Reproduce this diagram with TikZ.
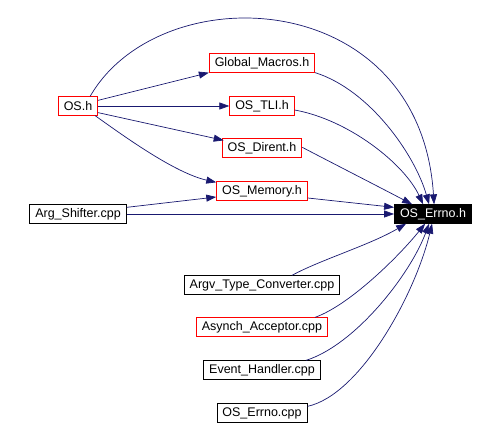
\documentclass[tikz,border=0pt]{standalone}
\usepackage{fontspec}
\setmainfont{Liberation Sans}
\usetikzlibrary{arrows.meta,calc}
\definecolor{incNavy}{RGB}{25,25,112}
\definecolor{incRed}{RGB}{255,0,0}

\begin{document}
\begin{tikzpicture}[x=1pt, y=1pt,
    file/.style={rectangle, draw=black, fill=white, line width=0.8pt,
                 font=\fontsize{12.5}{14}\selectfont, inner xsep=5.5pt,
                 inner ysep=0pt, minimum height=18.5pt},
    linked/.style={file, draw=incRed},
    focus/.style={file, draw=black, fill=black, text=white},
    dep/.style={draw=incNavy, line width=0.7pt,
                -{Triangle[length=10pt, width=7pt]}, fill=none}
  ]
  \useasboundingbox (0,0) rectangle (497,425);

  % headers
  \node[linked] (osh)     at ( 78, 319) {OS.h};
  \node[linked] (macros)  at (262, 362) {Global\_Macros.h};
  \node[linked] (tli)     at (262, 319) {OS\_TLI.h};
  \node[linked] (dirent)  at (262, 277) {OS\_Dirent.h};
  \node[linked] (memory)  at (262, 234) {OS\_Memory.h};
  \node[file]   (shifter) at ( 78, 211) {Arg\_Shifter.cpp};
  \node[focus]  (errno)   at (433, 211) {OS\_Errno.h};

  % sources
  \node[file]   (argv)    at (262, 140) {Argv\_Type\_Converter.cpp};
  \node[linked] (asynch)  at (262,  98) {Asynch\_Acceptor.cpp};
  \node[file]   (event)   at (262,  55) {Event\_Handler.cpp};
  \node[file]   (errcpp)  at (262,  12) {OS\_Errno.cpp};

  % OS.h includes
  \draw[dep] ([xshift=-8pt]osh.north east)
    .. controls (160,450) and (420,440) .. ([xshift=40pt]errno.north west);
  \draw[dep] ([yshift=-4pt]osh.north east) -- (macros.south west);
  \draw[dep] (osh.east) -- (tli.west);
  \draw[dep] ([yshift=3pt]osh.south east) -- ([xshift=2pt,yshift=-2pt]dirent.north west);
  \draw[dep] ([xshift=-3pt]osh.south east)
    .. controls (125,288) and (175,252) .. ([yshift=-1pt]memory.north west);
  \draw[dep] ([yshift=-3pt]shifter.north east) -- ([yshift=-6pt]memory.west);
  \draw[dep] (shifter.east) -- (errno.west);

  % into OS_Errno.h
  \draw[dep] (macros.south east)
    .. controls (370,335) and (415,270) .. ([xshift=35pt]errno.north west);
  \draw[dep] ([yshift=-4pt]tli.east)
    .. controls (350,305) and (405,260) .. ([xshift=29pt]errno.north west);
  \draw[dep] ([yshift=-9pt]dirent.north east)
    .. controls (340,258) and (385,235) .. ([xshift=18pt]errno.north west);
  \draw[dep] ([yshift=-7pt]memory.east) -- ([yshift=-3pt]errno.north west);
  \draw[dep] ([xshift=30pt]argv.north)
    .. controls (320,165) and (370,180) .. ([xshift=12pt]errno.south west);
  \draw[dep] ([xshift=53pt]asynch.north)
    .. controls (350,120) and (400,170) .. ([xshift=31pt]errno.south west);
  \draw[dep] ([xshift=44pt]event.north)
    .. controls (355,80) and (410,150) .. ([xshift=35pt]errno.south west);
  \draw[dep] ([yshift=-3pt]errcpp.north east)
    .. controls (360,30) and (415,130) .. ([xshift=38pt]errno.south west);
\end{tikzpicture}
\end{document}
